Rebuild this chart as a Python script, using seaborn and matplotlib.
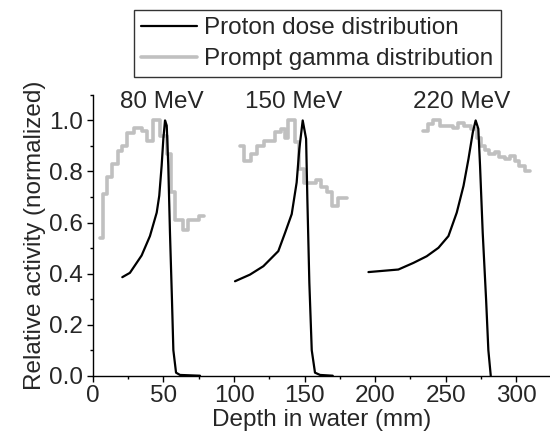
import matplotlib
matplotlib.use("Agg")
import matplotlib.pyplot as plt
from matplotlib.lines import Line2D
from matplotlib.ticker import MultipleLocator
import seaborn as sns

# --- data ---
energies = ["80 MeV", "150 MeV", "220 MeV"]
label_x = [49, 142, 261]

# proton dose curves (depth mm, relative dose)
dose80_x = [20.8, 26.2, 34.5, 40.4, 45.2, 47.0, 48.7, 49.9, 51.1, 52.3, 53.4, 54.6, 56.0, 57.0, 58.9, 61.7, 75.9]
dose80_y = [0.386, 0.403, 0.471, 0.547, 0.639, 0.705, 0.823, 0.928, 1.0, 0.98, 0.823, 0.56, 0.30, 0.10, 0.012, 0.003, 0.0]
dose150_x = [100.7, 111.3, 120.8, 131.4, 136.2, 140.9, 144.4, 146.3, 148.7, 151.1, 152.0, 153.4, 155.1, 157.4, 161.0, 170.0]
dose150_y = [0.37, 0.396, 0.429, 0.488, 0.56, 0.633, 0.757, 0.889, 1.0, 0.928, 0.69, 0.364, 0.10, 0.012, 0.003, 0.0]
dose220_x = [195.3, 216.5, 227.2, 236.6, 244.9, 252.0, 257.9, 262.7, 266.2, 269.3, 271.3, 273.2, 274.4, 276.3, 278.7, 280.3, 282.0]
dose220_y = [0.406, 0.416, 0.442, 0.468, 0.501, 0.547, 0.639, 0.744, 0.849, 0.954, 1.0, 0.967, 0.823, 0.56, 0.298, 0.10, 0.0]

# prompt gamma histograms (bin left edge mm, relative activity)
pg80_x = [5, 7, 10, 13.5, 17.5, 20.5, 24, 29, 35, 38.5, 42.5, 47.5, 52.5, 55, 58.5, 64, 67.5, 71, 75, 79]
pg80_y = [0.54, 0.71, 0.78, 0.83, 0.88, 0.90, 0.95, 0.97, 0.96, 0.92, 1.0, 0.94, 0.87, 0.72, 0.61, 0.57, 0.61, 0.61, 0.625, 0.625]
pg150_x = [104, 107, 112, 116, 121, 129, 133, 136, 138.5, 143.5, 146, 149.5, 158, 162, 166, 169.5, 174, 180]
pg150_y = [0.90, 0.84, 0.87, 0.90, 0.92, 0.955, 0.965, 0.93, 1.0, 0.915, 0.81, 0.755, 0.765, 0.74, 0.72, 0.665, 0.695, 0.695]
pg220_x = [234, 237.5, 241, 246, 255, 258.5, 263, 268, 272, 275, 278, 281, 285, 288, 292, 295.5, 299, 302, 306, 310]
pg220_y = [0.96, 0.985, 1.0, 0.98, 0.97, 0.99, 0.98, 0.965, 0.93, 0.90, 0.885, 0.87, 0.875, 0.855, 0.85, 0.86, 0.84, 0.82, 0.80, 0.80]

sns.set_style("ticks")
plt.rcParams['font.family'] = ['Liberation Sans', 'DejaVu Sans']
FS = 17.5
plt.rcParams['font.size'] = FS

fig = plt.figure(figsize=(5.5, 4.45), dpi=100)
ax = fig.add_axes([0.169, 0.1557, 0.831, 0.631])

gray = "#c0c0c0"
for gx, gy in [(pg80_x, pg80_y), (pg150_x, pg150_y), (pg220_x, pg220_y)]:
    sns.lineplot(x=gx, y=gy, ax=ax, color=gray, linewidth=2.6,
                 drawstyle="steps-post", estimator=None, sort=False)

for dx, dy in [(dose80_x, dose80_y), (dose150_x, dose150_y), (dose220_x, dose220_y)]:
    sns.lineplot(x=dx, y=dy, ax=ax, color="black", linewidth=1.6,
                 estimator=None, sort=False)

for lab, lx in zip(energies, label_x):
    ax.text(lx, 1.05, lab, ha="center", va="baseline", fontsize=FS)

ax.set_xlim(0, 324)
ax.set_ylim(0, 1.1)
ax.xaxis.set_major_locator(MultipleLocator(50))
ax.xaxis.set_minor_locator(MultipleLocator(25))
ax.yaxis.set_major_locator(MultipleLocator(0.2))
ax.yaxis.set_minor_locator(MultipleLocator(0.1))
ax.tick_params(which="major", direction="out", length=4, width=1, pad=3, labelsize=FS, color="black")
ax.tick_params(which="minor", direction="out", length=2.5, width=1, color="black")
ax.set_yticks([0, 0.2, 0.4, 0.6, 0.8, 1.0])
ax.set_yticklabels(["0.0", "0.2", "0.4", "0.6", "0.8", "1.0"])
for s in ["top", "right"]:
    ax.spines[s].set_visible(False)
for s in ["left", "bottom"]:
    ax.spines[s].set_color("black")
    ax.spines[s].set_linewidth(1)

ax.set_xlabel("Depth in water (mm)", fontsize=FS, labelpad=1)
ax.set_ylabel("Relative activity (normalized)", fontsize=FS, labelpad=2)

handles = [Line2D([], [], color="black", linewidth=1.6),
           Line2D([], [], color=gray, linewidth=2.6)]
leg = fig.legend(handles, ["Proton dose distribution", "Prompt gamma distribution"],
                 loc="upper left", bbox_to_anchor=(134 / 550, 1 - 10 / 445),
                 frameon=True, fancybox=False, fontsize=FS, borderaxespad=0,
                 borderpad=0.3, labelspacing=0.36, handlelength=2.3, handletextpad=0.3)
leg.get_frame().set_edgecolor("black")
leg.get_frame().set_linewidth(1)

fig.savefig("out.png", dpi=100)
